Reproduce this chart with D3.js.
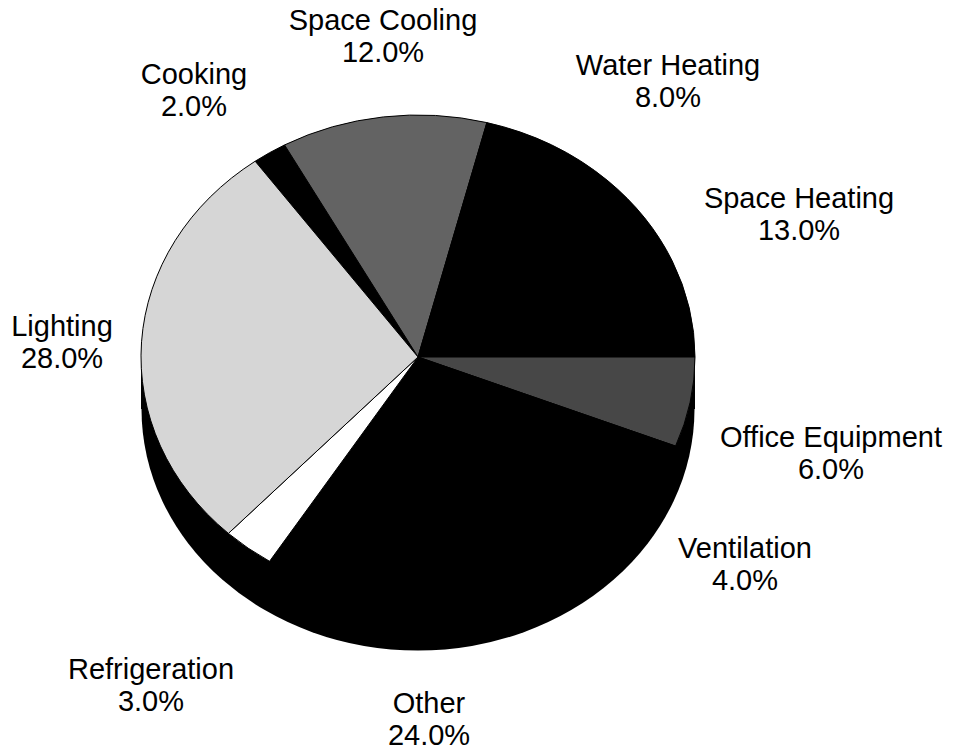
<!DOCTYPE html>
<html>
<head>
<meta charset="utf-8">
<script src="https://cdn.jsdelivr.net/npm/d3@7"></script>
<style>
  body { margin: 0; background: #fff; }
  text { font-family: "Liberation Sans", Arial, sans-serif; font-size: 29px; fill: #000; }
</style>
</head>
<body>
<div id="chart"></div>
<script>
// slices, clockwise starting at the top-left (Cooking)
var categories = ["Cooking", "Space Cooling", "Water Heating", "Space Heating",
  "Office Equipment", "Ventilation", "Other", "Refrigeration", "Lighting"];
var shares = [2, 12, 8, 13, 6, 4, 24, 3, 28];

// look of each slice (scanned greys)
var fills = ["#000", "#636363", "#000", "#000", "#474747", "#000", "#000", "#fff", "#d6d6d6"];

// where each two-line label sits (centre x, first baseline)
var labelSpots = [[194, 84], [383, 30], [668, 75], [799, 208], [831, 447],
  [745, 558], [429, 713], [151, 679], [62, 336]];

var width = 956;
var height = 752;

var cx = 418, cy = 357;   // pie centre
var rx = 277, ry = 242;   // top surface ellipse
var depth = 52;           // thickness of the disc

var svg = d3.select("#chart").append("svg")
  .attr("width", width)
  .attr("height", height);

var pie = d3.pie()
  .sort(null)
  .startAngle(-36 * Math.PI / 180)
  .endAngle(-36 * Math.PI / 180 + 2 * Math.PI)
  .value(function(d) { return d; });

var arcs = pie(shares);
var arc = d3.arc().innerRadius(0).outerRadius(rx);

// side wall of the disc (plus a dark base under the top so seams don't show)
var side = svg.append("g").attr("transform", "translate(" + cx + "," + cy + ")");
side.append("rect")
  .attr("x", -rx)
  .attr("y", 0)
  .attr("width", rx * 2)
  .attr("height", depth)
  .attr("fill", "#000");
side.selectAll("g.disc")
  .data([depth, 0])
  .join("g")
    .attr("class", "disc")
    .attr("transform", function(d) { return "translate(0," + d + ") scale(1," + (ry / rx) + ")"; })
  .append("circle")
    .attr("r", rx - 0.5)
    .attr("fill", "#000");

// top surface
var surface = svg.append("g")
  .attr("transform", "translate(" + cx + "," + cy + ") scale(1," + (ry / rx) + ")");

surface.selectAll("path")
  .data(arcs)
  .join("path")
    .attr("d", arc)
    .attr("fill", function(d, i) { return fills[i]; })
    .attr("stroke", "#000")
    .attr("stroke-width", 1)
    .attr("vector-effect", "non-scaling-stroke");

// labels
var fmt = d3.format(".1f");
var labels = svg.append("g").selectAll("text")
  .data(arcs)
  .join("text")
    .attr("text-anchor", "middle")
    .attr("x", function(d, i) { return labelSpots[i][0]; })
    .attr("y", function(d, i) { return labelSpots[i][1]; });

labels.append("tspan")
  .text(function(d, i) { return categories[i]; });
labels.append("tspan")
  .attr("x", function(d, i) { return labelSpots[i][0]; })
  .attr("dy", 32)
  .text(function(d) { return fmt(d.data) + "%"; });
</script>
</body>
</html>
